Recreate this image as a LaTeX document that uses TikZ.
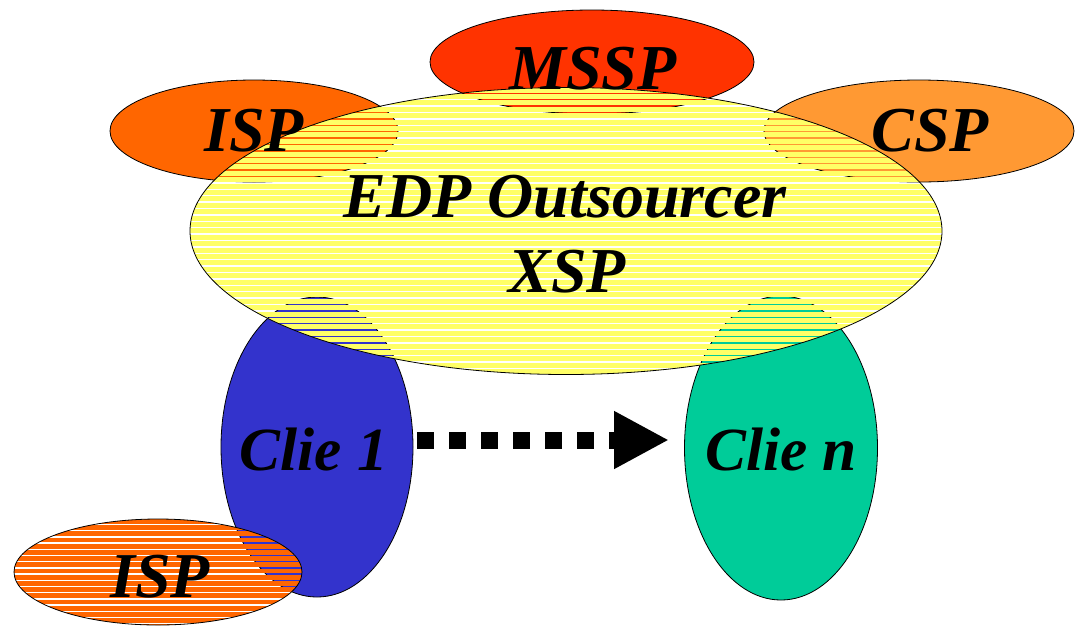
\documentclass[tikz,border=0pt]{standalone}
\usepackage{fontspec}
\setmainfont{Liberation Serif}
\usetikzlibrary{shapes.geometric,arrows.meta,calc}
\definecolor{msspc}{HTML}{FF3300}
\definecolor{ispc}{HTML}{FF6600}
\definecolor{cspc}{HTML}{FF9933}
\definecolor{yelc}{HTML}{FFFF66}
\definecolor{bluec}{HTML}{3333CC}
\definecolor{greenc}{HTML}{00CC99}
\tikzset{
  oval/.style={ellipse, draw=black, line width=0.6pt, inner sep=0pt, outer sep=0pt},
  lbl/.style={anchor=base, inner sep=0pt, font=\fontsize{48}{48}\selectfont\bfseries\itshape},
  lblc/.style={anchor=base, inner sep=0pt, font=\fontsize{46}{46}\selectfont\bfseries\itshape},
  stripes/.style={path picture={
    \foreach \k in {0,...,#1}
      \fill[fill=\stripecol] ($(path picture bounding box.north west)+(0,\k*\stripeper)$) rectangle ++(800,\stripeband);
  }},
}
\def\px{0.75pt}
\begin{document}
\begin{tikzpicture}[x=0.75pt,y=-0.75pt]
\useasboundingbox (0,0) rectangle (1075,626);
% background ellipses
\node[oval, fill=msspc, minimum width=324*\px, minimum height=104*\px] (mssp) at (592,62) {};
\node[oval, fill=ispc, minimum width=288*\px, minimum height=102*\px] (isp1) at (254,131) {};
\node[oval, fill=cspc, minimum width=310*\px, minimum height=102*\px] (csp) at (919,131) {};
\node[oval, fill=bluec, minimum width=192*\px, minimum height=300*\px] (c1) at (317,447) {};
\node[oval, fill=greenc, minimum width=193*\px, minimum height=304*\px] (cn) at (781,448) {};
% striped yellow ellipse
\def\stripecol{yelc}\def\stripeper{6.4}\def\stripeband{5}
\node[oval, stripes=46, minimum width=752*\px, minimum height=287*\px] (edp) at (566,231) {};
% striped bottom ISP
\def\stripecol{ispc}\def\stripeper{6.2}\def\stripeband{4.7}
\node[oval, stripes=18, minimum width=288*\px, minimum height=106*\px] (isp2) at (158,572) {};
% arrow
\coordinate (as) at (417,440);
\coordinate (ae) at (669,440);
\draw[line width=17*\px, dash pattern=on 17*\px off 15*\px, -{Triangle[length=55*\px, width=54*\px]}] (as) -- (ae);
% labels
\node[lbl] (tmssp) at (593,89) {MSSP};
\node[lbl] (tisp1) at (254,151) {ISP};
\node[lbl] (tcsp) at (930,151) {CSP};
\node[lbl] (tedp) at (565,217) {EDP Outsourcer};
\node[lbl] (txsp) at (567,292) {XSP};
\node[lblc] (tc1) at (314,470) {Clie 1};
\node[lblc] (tcn) at (781,470) {Clie n};
\node[lbl] (tisp2) at (160,597) {ISP};
\end{tikzpicture}
\end{document}
